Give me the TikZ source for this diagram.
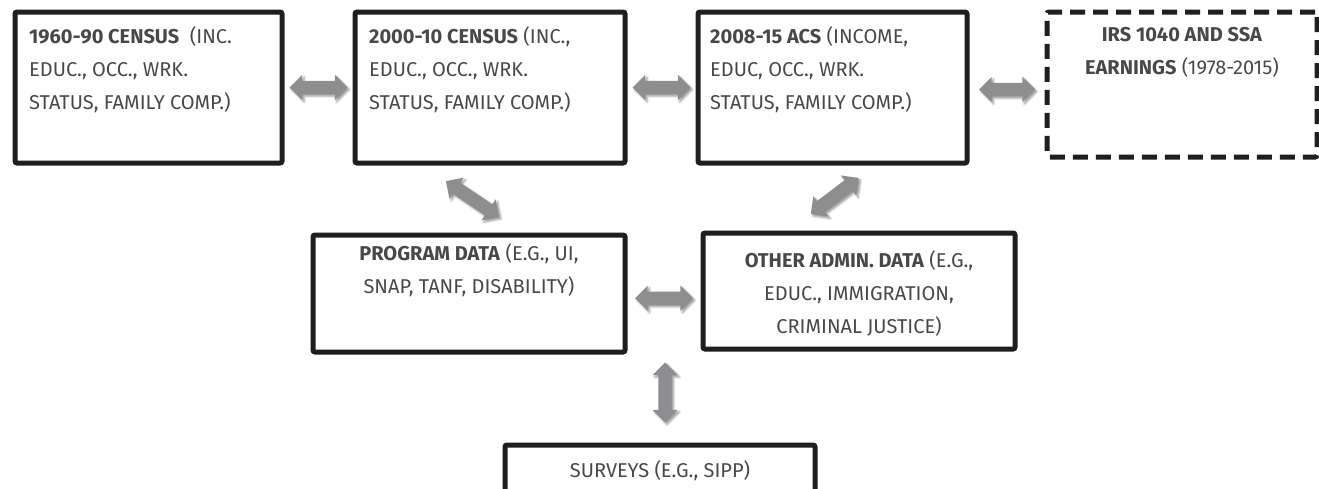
\documentclass[tikz,border=0pt]{standalone}
\usepackage{fontspec}
\setmainfont{Fira Sans}
\usetikzlibrary{shapes.arrows,shadows.blur,calc}

\definecolor{boxline}{HTML}{1E1E1E}
\definecolor{txtgray}{HTML}{48484A}
\definecolor{arrgray}{HTML}{8D8E90}
\newcommand{\tstrut}{\rule{0pt}{15pt}}

\tikzset{
    dbox/.style={draw=boxline, line width=5pt, rounded corners=2pt, inner sep=0pt, anchor=north west},
    dtext/.style={inner sep=0pt, text=txtgray, font=\fontsize{20}{33}\selectfont},
    darrow/.style={double arrow, fill=arrgray, inner xsep=0pt, inner ysep=6.5pt,
        minimum height=58pt, double arrow head extend=6pt,
        blur shadow={shadow xshift=2pt, shadow yshift=-2pt, shadow blur radius=2pt}}
}

\begin{document}
\begin{tikzpicture}[x=1pt, y=-1pt]
    \useasboundingbox (0,0) rectangle (1319,488);

    % top row
    \node [dbox, minimum width=267pt, minimum height=151pt] (b1) at (12.5,9.5) {};
    \node [dbox, minimum width=270pt, minimum height=151pt] (b2) at (352.5,9.5) {};
    \node [dbox, minimum width=269pt, minimum height=151pt] (b3) at (695.5,9.5) {};
    \node [dbox, dash pattern=on 15pt off 8pt, minimum width=270pt, minimum height=145pt] (b4) at (1044.5,9.5) {};

    \node [dtext, anchor=north west, align=left] (t1) at ($(b1.north west)+(16.5,16.5)$)
        {\tstrut\textbf{1960-90 CENSUS}\ \ (INC.\\EDUC., OCC., WRK.\\STATUS, FAMILY COMP.)};
    \node [dtext, anchor=north west, align=left] (t2) at ($(b2.north west)+(16.5,16.5)$)
        {\tstrut\textbf{2000-10 CENSUS} (INC.,\\EDUC., OCC., WRK.\\STATUS, FAMILY COMP.)};
    \node [dtext, anchor=north west, align=left] (t3) at ($(b3.north west)+(14.5,16.5)$)
        {\tstrut\textbf{2008-15 ACS} (INCOME,\\EDUC, OCC., WRK.\\STATUS, FAMILY COMP.)};
    \node [dtext, anchor=north, align=center] (t4) at ($(b4.north)+(0,16.5)$)
        {\tstrut\textbf{IRS 1040 AND SSA}\\\textbf{EARNINGS} (1978-2015)};

    % middle row
    \node [dbox, minimum width=312pt, minimum height=117pt] (b5) at (310.5,232.5) {};
    \node [dbox, minimum width=312pt, minimum height=116pt] (b6) at (700.5,230.5) {};

    \node [dtext, anchor=north, align=center] (t5) at ($(b5.north)+(0,10.5)$)
        {\tstrut\textbf{PROGRAM DATA} (E.G., UI,\\SNAP, TANF, DISABILITY)};
    \node [dtext, anchor=north, align=center] (t6) at ($(b6.north)+(0,19.5)$)
        {\tstrut\textbf{OTHER ADMIN.\ DATA} (E.G.,\\EDUC., IMMIGRATION,\\CRIMINAL JUSTICE)};

    % surveys
    \node [dbox, minimum width=310pt, minimum height=100pt] (b7) at (502.5,442.5) {};
    \node [dtext, anchor=north] (t7) at ($(b7.north)+(0,17.5)$) {\tstrut SURVEYS (E.G., SIPP)};

    % arrows
    \node [darrow] (a12) at ($(b1.east)!.5!(b2.west)$) {};
    \node [darrow] (a23) at ($(b2.east)!.5!(b3.west)$) {};
    \node [darrow, minimum height=56pt] (a34) at ($(b3.east)!.5!(b4.west |- b3.east)+(0,2)$) {};
    \node [darrow, rotate=-34, minimum height=64pt] (a25) at ($(b2.south)!.5!(b5.north)+(-7,0)$) {};
    \node [darrow, rotate=37, minimum height=60pt] (a36) at ($(b3.south)!.5!(b6.north)+(-11,-2)$) {};
    \node [darrow] (a56) at ($(b5.east)!.5!(b6.west)+(0,6)$) {};
    \node [darrow, rotate=90, minimum height=60pt] (a57) at ($(a56 |- b7.north)+(1,-50)$) {};
\end{tikzpicture}
\end{document}
